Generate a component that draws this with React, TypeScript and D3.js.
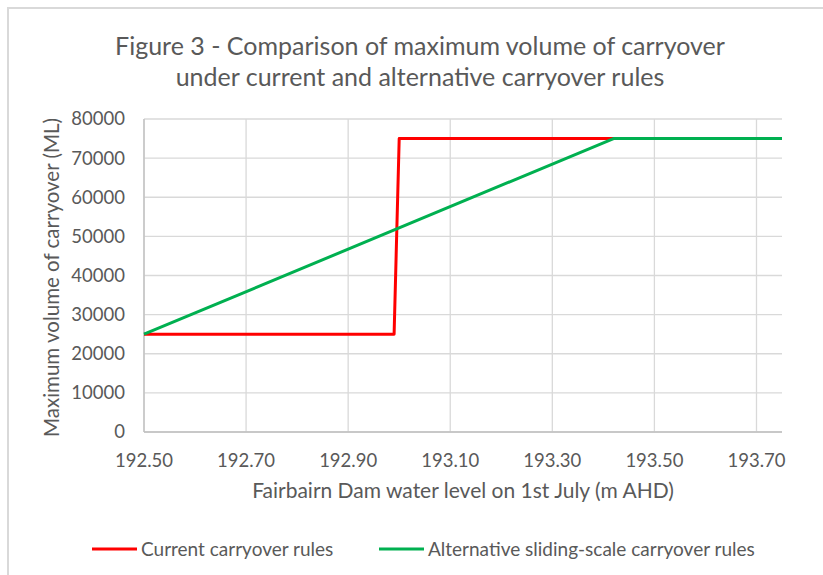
import React from 'react';
import * as d3 from 'd3';

// water level (m AHD) vs max carryover (ML)
const currentLevels = [192.5, 192.99, 193.0, 193.75];
const currentVolumes = [25000, 25000, 75000, 75000];
const altLevels = [192.5, 193.42, 193.75];
const altVolumes = [25000, 75000, 75000];

const xTicks = [192.5, 192.7, 192.9, 193.1, 193.3, 193.5, 193.7];
const yTicks = [0, 10000, 20000, 30000, 40000, 50000, 60000, 70000, 80000];

const titleLines = [
  'Figure 3 - Comparison of maximum volume of carryover',
  'under current and alternative carryover rules',
];

const FONT = 'Lato, "Open Sans", sans-serif';
const TEXT = '#595959';

export default function App() {
  const width = 823;
  const height = 575;
  const left = 144, right = 782, top = 119, bottom = 432;

  const x = d3.scaleLinear().domain([192.5, 193.75]).range([left, right]);
  const y = d3.scaleLinear().domain([0, 80000]).range([bottom, top]);

  const line = d3.line<[number, number]>()
    .x(d => x(d[0]))
    .y(d => y(d[1]));

  const current = currentLevels.map((l, i) => [l, currentVolumes[i]] as [number, number]);
  const alt = altLevels.map((l, i) => [l, altVolumes[i]] as [number, number]);

  // vertical gridlines sit on the labelled levels
  const xGrid = xTicks;

  return (
    <svg width={width} height={height} style={{ position: 'absolute', left: 0, top: 0 }}>
      <rect x={0} y={0} width={width} height={height} fill="#fff" />
      {/* chart frame, cut off at the right and bottom */}
      <rect x={8} y={8} width={840} height={600} fill="none" stroke="#D9D9D9" strokeWidth={2} />

      {titleLines.map((t, i) => (
        <text key={i} x={420} y={46 + i * 31} dy="0.35em" textAnchor="middle" fontFamily={FONT}
          fontSize={25} fill={TEXT}>{t}</text>
      ))}

      {yTicks.map(v => (
        <line key={'gy' + v} x1={left} x2={right} y1={y(v)} y2={y(v)} stroke="#D9D9D9" strokeWidth={1.3} />
      ))}
      {xGrid.map(v => (
        <line key={'gx' + v} x1={x(v)} x2={x(v)} y1={top} y2={bottom} stroke="#D9D9D9" strokeWidth={1.3} />
      ))}
      <line x1={left} x2={left} y1={top} y2={bottom} stroke="#BFBFBF" strokeWidth={1.3} />
      <line x1={left} x2={right} y1={bottom} y2={bottom} stroke="#BFBFBF" strokeWidth={1.3} />

      {yTicks.map(v => (
        <text key={'ty' + v} x={125} y={y(v)} dy="0.35em" textAnchor="end" fontFamily={FONT}
          fontSize={18.5} fill={TEXT}>{v}</text>
      ))}
      {xTicks.map(v => (
        <text key={'tx' + v} x={x(v)} y={461} dy="0.35em" textAnchor="middle" fontFamily={FONT}
          fontSize={18.5} fill={TEXT}>{v.toFixed(2)}</text>
      ))}

      <text x={(left + right) / 2} y={491} dy="0.35em" textAnchor="middle" fontFamily={FONT}
        fontSize={21} fill={TEXT}>Fairbairn Dam water level on 1st July (m AHD)</text>
      <text transform={`translate(52,${(top + bottom) / 2 + 2}) rotate(-90)`} dy="0.35em" textAnchor="middle"
        fontFamily={FONT} fontSize={20.5} fill={TEXT}>Maximum volume of carryover (ML)</text>

      <path d={line(current) ?? ''} fill="none" stroke="#FF0000" strokeWidth={3} strokeLinejoin="round" />
      <path d={line(alt) ?? ''} fill="none" stroke="#00B050" strokeWidth={3} strokeLinejoin="round" />

      {/* legend */}
      <line x1={92} x2={137} y1={549} y2={549} stroke="#FF0000" strokeWidth={3} />
      <text x={141} y={549} dy="0.35em" fontFamily={FONT} fontSize={19} fill={TEXT}>Current carryover rules</text>
      <line x1={379} x2={424} y1={549} y2={549} stroke="#00B050" strokeWidth={3} />
      <text x={428} y={549} dy="0.35em" fontFamily={FONT} fontSize={19} fill={TEXT}>Alternative sliding-scale carryover rules</text>
    </svg>
  );
}
